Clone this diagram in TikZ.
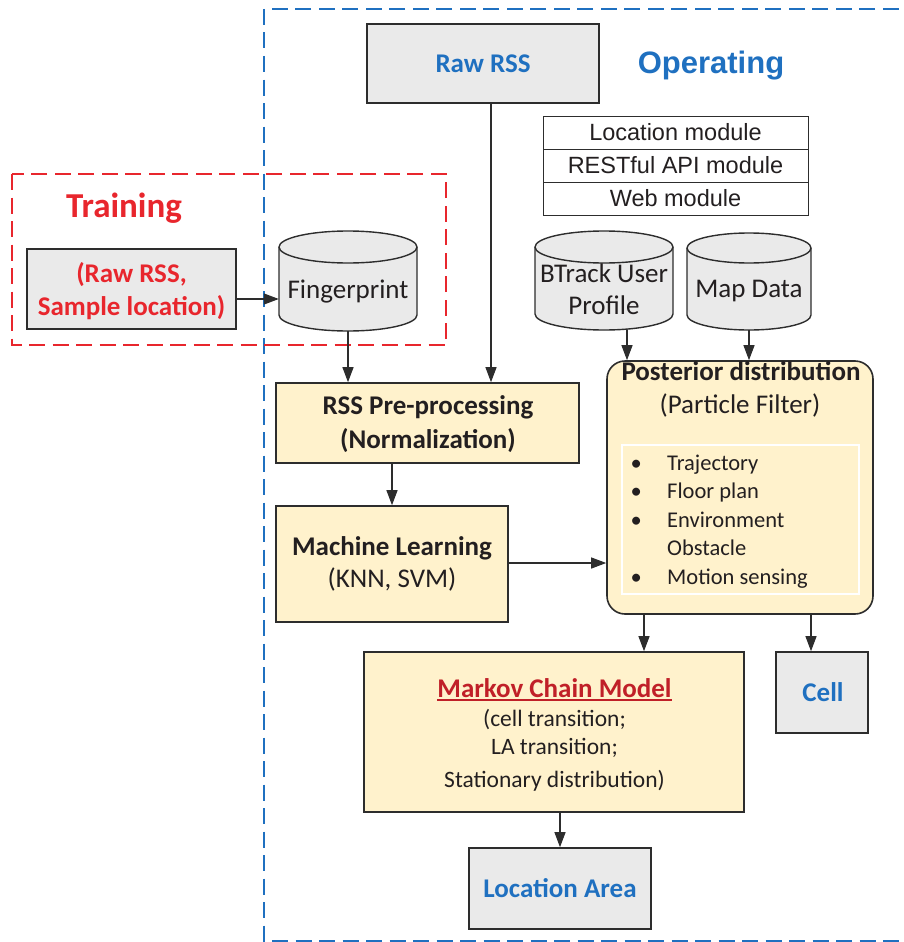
\documentclass[tikz,border=0pt]{standalone}
\usepackage{fontspec}
\setmainfont{Carlito}
\newfontfamily\arialf{Liberation Sans}
\usetikzlibrary{arrows.meta}
\definecolor{bblue}{RGB}{31,112,192}
\definecolor{tred}{RGB}{232,38,45}
\definecolor{mred}{RGB}{192,32,40}
\definecolor{byel}{RGB}{255,242,204}
\definecolor{bgray}{RGB}{234,234,234}
\definecolor{ink}{RGB}{35,31,32}
\definecolor{edge}{RGB}{45,45,45}
\begin{document}
\begin{tikzpicture}[x=1pt,y=-1pt,
  box/.style={draw=edge, line width=1.6pt, inner sep=0pt},
  graybox/.style={box, fill=bgray},
  yelbox/.style={box, fill=byel},
  txt/.style={anchor=base, inner sep=0pt, text=ink},
  big/.style={font=\fontsize{27}{32}\selectfont},
  bigb/.style={font=\fontsize{27}{32}\selectfont\bfseries},
  mid/.style={font=\fontsize{23.5}{28}\selectfont},
  small/.style={font=\fontsize{22.5}{27}\selectfont},
  modtxt/.style={txt, font=\arialf\fontsize{23.5}{28}\selectfont},
  arr/.style={draw=edge, line width=1.1pt, -{Triangle[length=15pt,width=11pt]}},
  dashbox/.style={line width=2pt, dash pattern=on 16pt off 7.5pt},
  anchorbox/.style={draw=none, inner sep=0pt}
]
\useasboundingbox (0,0) rectangle (904,942);

% ---------- dashed regions ----------
\draw[dashbox, bblue] (264,9) rectangle (930,941);
\draw[dashbox, tred, line width=1.8pt] (12,174) rectangle (446,345);

\node[txt, font=\arialf\fontsize{31}{36}\selectfont\bfseries, text=bblue] (optitle) at (711,74) {Operating};
\node[txt, font=\fontsize{35}{40}\selectfont\bfseries, text=tred] (trtitle) at (124,217) {Training};

% ---------- Raw RSS ----------
\node[graybox, minimum width=232pt, minimum height=79pt] (rawrss) at (483,63.5) {};
\node[txt, bigb, text=bblue] (rawrsst) at (483,72) {Raw RSS};

% ---------- modules ----------
\node[box, line width=1pt, minimum width=265pt, minimum height=33pt] (m1) at (675.5,132.5) {};
\node[box, line width=1pt, minimum width=265pt, minimum height=33pt] (m2) at (675.5,165.5) {};
\node[box, line width=1pt, minimum width=265pt, minimum height=33pt] (m3) at (675.5,198.5) {};
\node[modtxt] (m1t) at (675.5,140.5) {Location module};
\node[modtxt] (m2t) at (675.5,173.5) {RESTful API module};
\node[modtxt] (m3t) at (675.5,206.5) {Web module};

% ---------- training sample ----------
\node[graybox, minimum width=209pt, minimum height=80pt] (sample) at (131.5,289) {};
\node[txt, bigb, text=tred] (sample1) at (131.5,282) {(Raw RSS,};
\node[txt, bigb, text=tred] (sample2) at (131.5,315) {Sample location)};

% ---------- cylinders ----------
% Fingerprint
\node[anchorbox, minimum width=138pt, minimum height=100pt] (fp) at (348,281) {};
\filldraw[draw=edge, fill=bgray, line width=1.4pt]
  (279,247) -- (279,315) arc[start angle=180, end angle=360, x radius=69pt, y radius=16pt]
  -- (417,247) arc[start angle=0, end angle=180, x radius=69pt, y radius=16pt] -- cycle;
\draw[edge, line width=1.4pt] (279,247) arc[start angle=180, end angle=360, x radius=69pt, y radius=16pt];
\node[txt, big] (fpt) at (348,298) {Fingerprint};

% BTrack User Profile
\node[anchorbox, minimum width=138pt, minimum height=99pt] (bt) at (604,280.5) {};
\filldraw[draw=edge, fill=bgray, line width=1.4pt]
  (535,247) -- (535,314) arc[start angle=180, end angle=360, x radius=69pt, y radius=16pt]
  -- (673,247) arc[start angle=0, end angle=180, x radius=69pt, y radius=16pt] -- cycle;
\draw[edge, line width=1.4pt] (535,247) arc[start angle=180, end angle=360, x radius=69pt, y radius=16pt];
\node[txt, big] (bt1) at (604,282) {BTrack User};
\node[txt, big] (bt2) at (604,314) {Profile};

% Map Data
\node[anchorbox, minimum width=124pt, minimum height=97pt] (map) at (749,281.5) {};
\filldraw[draw=edge, fill=bgray, line width=1.4pt]
  (687,248) -- (687,315) arc[start angle=180, end angle=360, x radius=62pt, y radius=15pt]
  -- (811,248) arc[start angle=0, end angle=180, x radius=62pt, y radius=15pt] -- cycle;
\draw[edge, line width=1.4pt] (687,248) arc[start angle=180, end angle=360, x radius=62pt, y radius=15pt];
\node[txt, big] (mapt) at (749,297) {Map Data};

% ---------- RSS pre-processing ----------
\node[yelbox, minimum width=303pt, minimum height=80pt] (rsspre) at (427.5,423) {};
\node[txt, bigb] (rsspre1) at (428,414) {RSS Pre-processing};
\node[txt, bigb] (rsspre2) at (428,448) {(Normalization)};

% ---------- Machine learning ----------
\node[yelbox, minimum width=232pt, minimum height=116pt] (ml) at (392,564) {};
\node[txt, bigb] (ml1) at (392,555) {Machine Learning};
\node[txt, big] (ml2) at (392,587) {(KNN, SVM)};

% ---------- Posterior ----------
\node[yelbox, rounded corners=18pt, minimum width=266pt, minimum height=253pt] (post) at (740,487.5) {};
\node[draw=white, line width=1.2pt, inner sep=0pt, minimum width=237pt, minimum height=149pt] (inner) at (740.5,519.5) {};
\node[txt, bigb] (post1) at (741,380) {Posterior distribution};
\node[txt, big] (post2) at (740,413) {(Particle Filter)};
\node[txt, small, anchor=base west] (b1) at (630.5,470) {\textbullet};
\node[txt, small, anchor=base west] (b2) at (630.5,498.5) {\textbullet};
\node[txt, small, anchor=base west] (b3) at (630.5,527) {\textbullet};
\node[txt, small, anchor=base west] (b5) at (630.5,584) {\textbullet};
\node[txt, small, anchor=base west] (l1) at (667,470) {Trajectory};
\node[txt, small, anchor=base west] (l2) at (667,498.5) {Floor plan};
\node[txt, small, anchor=base west] (l3) at (667,527) {Environment};
\node[txt, small, anchor=base west] (l4) at (667,555.5) {Obstacle};
\node[txt, small, anchor=base west] (l5) at (667,584) {Motion sensing};

% ---------- Markov ----------
\node[yelbox, minimum width=380pt, minimum height=160pt] (markov) at (554,732) {};
\node[txt, bigb, text=mred] (mk1) at (554.5,697) {Markov Chain Model};
\draw[mred, line width=1.5pt] ([yshift=-2.8pt]mk1.base west) -- ([yshift=-2.8pt]mk1.base east);
\node[txt, mid] (mk2) at (554.5,726) {(cell transition;};
\node[txt, mid] (mk3) at (554.5,754) {LA transition;};
\node[txt, mid] (mk4) at (554.5,787) {Stationary distribution)};

% ---------- Cell / Location Area ----------
\node[graybox, minimum width=92pt, minimum height=81pt] (cell) at (822,692.5) {};
\node[txt, bigb, text=bblue] (cellt) at (823,701) {Cell};
\node[graybox, minimum width=182pt, minimum height=81pt] (la) at (560,888.5) {};
\node[txt, bigb, text=bblue] (lat) at (560,897) {Location Area};

% ---------- connectors ----------
\draw[arr] ([yshift=-10pt]sample.east) -- ([yshift=-10pt]sample.east -| fp.west);
\draw[arr] (fp.south) -- (fp.south |- rsspre.north);
\draw[arr] ([xshift=8pt]rawrss.south) -- ([xshift=8pt]rawrss.south |- rsspre.north);
\draw[arr] (ml.north |- rsspre.south) -- (ml.north);
\draw[arr] ([yshift=1pt]ml.east) -- ([yshift=1pt]ml.east -| post.west);
\draw[arr] ([xshift=23pt]bt.south) -- ([xshift=23pt]bt.south |- post.north);
\draw[arr] (map.south) -- (map.south |- post.north);
\draw[arr] ([xshift=-96pt]post.south) -- ([xshift=-96pt]post.south |- markov.north);
\draw[arr] ([xshift=71pt]post.south) -- ([xshift=71pt]post.south |- cell.north);
\draw[arr] (la.north |- markov.south) -- (la.north);
\end{tikzpicture}
\end{document}
